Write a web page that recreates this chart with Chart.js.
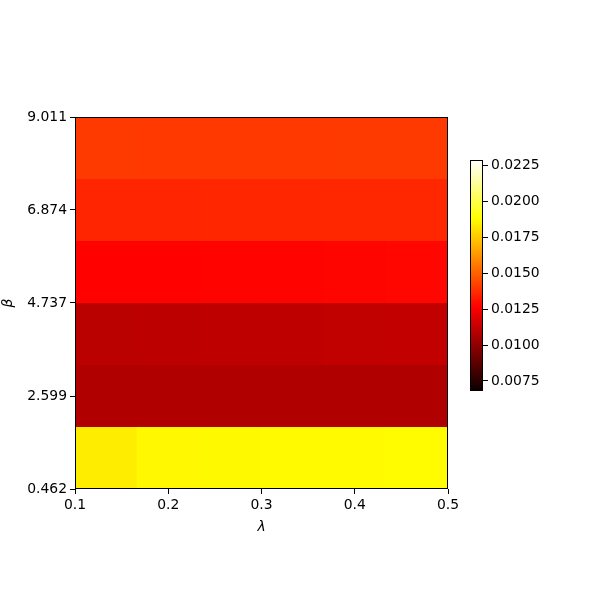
<!DOCTYPE html>
<html>
<head>
<meta charset="utf-8">
<script src="https://cdn.jsdelivr.net/npm/chart.js@4/dist/chart.umd.min.js"></script>
<style>
  html, body { margin: 0; padding: 0; background: #fff; }
  #wrap { position: relative; width: 600px; height: 600px; }
  #main { position: absolute; left: 0; top: 0; }
  #cbar { position: absolute; left: 440px; top: 140px; }
</style>
</head>
<body>
<div id="wrap">
  <canvas id="main" width="600" height="600"></canvas>
  <canvas id="cbar" width="140" height="270"></canvas>
</div>
<script>
// ---- data ----
const lambdaEdges = [0.1, 0.16667, 0.23333, 0.3, 0.36667, 0.43333, 0.5];
const betaEdges = [0.462, 1.8868, 3.3117, 4.7365, 6.1613, 7.5862, 9.011];
const xTicks = [0.1, 0.2, 0.3, 0.4, 0.5];
const yTicks = [0.462, 2.599, 4.737, 6.874, 9.011];
const cbTicks = [0.0075, 0.0100, 0.0125, 0.0150, 0.0175, 0.0200, 0.0225];
const vMin = 0.0068;
const vMax = 0.0229;
// rows from bottom (beta low) to top (beta high), columns lambda left -> right
const row0 = [0.01838, 0.01864, 0.01866, 0.01868, 0.01870, 0.01873];
const row1 = [0.01078, 0.01078, 0.01079, 0.01080, 0.01080, 0.01081];
const row2 = [0.01105, 0.01107, 0.01112, 0.01115, 0.01119, 0.01124];
const row3 = [0.01272, 0.01272, 0.01274, 0.01276, 0.01280, 0.01282];
const row4 = [0.01356, 0.01357, 0.01358, 0.01359, 0.01361, 0.01362];
const row5 = [0.01408, 0.01404, 0.01405, 0.01406, 0.01407, 0.01408];
const rows = [row0, row1, row2, row3, row4, row5];

// ---- colormap (matplotlib 'hot') ----
function hot(t) {
  t = Math.max(0, Math.min(1, t));
  const r = t < 0.365079 ? 0.0416 + (1 - 0.0416) * t / 0.365079 : 1;
  const g = t < 0.365079 ? 0 : (t < 0.746032 ? (t - 0.365079) / (0.746032 - 0.365079) : 1);
  const b = t < 0.746032 ? 0 : (t - 0.746032) / (1 - 0.746032);
  return 'rgb(' + Math.round(r * 255) + ',' + Math.round(g * 255) + ',' + Math.round(b * 255) + ')';
}
function colorFor(v) { return hot((v - vMin) / (vMax - vMin)); }

const FONT = { family: 'DejaVu Sans', size: 13.9 };
Chart.defaults.font.family = 'DejaVu Sans';
Chart.defaults.color = '#000';
Chart.defaults.animation = false;

const datasets = rows.map((row, ri) => ({
  data: row.map((v, ci) => ({
    x: (lambdaEdges[ci] + lambdaEdges[ci + 1]) / 2,
    y: [betaEdges[ri], betaEdges[ri + 1]]
  })),
  backgroundColor: row.map(colorFor),
  borderWidth: 0,
  barPercentage: 1.02,
  categoryPercentage: 1,
  grouped: false
}));

const boxPlugin = {
  id: 'box',
  afterDatasetsDraw(chart) {
    const a = chart.chartArea, ctx = chart.ctx;
    ctx.save();
    ctx.strokeStyle = '#000';
    ctx.lineWidth = 1;
    ctx.strokeRect(Math.round(a.left) + 0.5, Math.round(a.top) + 0.5,
      Math.round(a.right - a.left) - 1, Math.round(a.bottom - a.top) - 1);
    ctx.restore();
  }
};

new Chart(document.getElementById('main'), {
  type: 'bar',
  data: { datasets },
  options: {
    responsive: false,
    animation: false,
    layout: { padding: { top: 117, right: 152, bottom: 64, left: 0 } },
    plugins: { legend: { display: false }, tooltip: { enabled: false } },
    scales: {
      x: {
        type: 'linear', min: 0.1, max: 0.5, offset: false,
        grid: { drawOnChartArea: false, offset: false, tickLength: 5, tickColor: '#000', tickWidth: 1 },
        border: { display: false },
        afterBuildTicks: s => { s.ticks = xTicks.map(v => ({ value: v })); },
        afterFit: s => { s.height = 47; },
        ticks: { font: FONT, color: '#000', padding: 3, maxRotation: 0,
          callback: v => v.toFixed(1) },
        title: { display: true, text: 'λ', font: { family: 'DejaVu Sans', size: 13.9, style: 'italic' }, color: '#000', padding: 0 }
      },
      y: {
        type: 'linear', min: 0.462, max: 9.011,
        grid: { drawOnChartArea: false, tickLength: 5, tickColor: '#000', tickWidth: 1 },
        border: { display: false },
        afterBuildTicks: s => { s.ticks = yTicks.map(v => ({ value: v })); },
        afterFit: s => { s.width = 75; },
        ticks: { font: FONT, color: '#000', padding: 3, callback: v => v.toFixed(3) },
        title: { display: true, text: 'β', font: { family: 'DejaVu Sans', size: 13.9, style: 'italic' }, color: '#000', padding: 0 }
      }
    }
  },
  plugins: [boxPlugin]
});

// ---- colorbar ----
new Chart(document.getElementById('cbar'), {
  type: 'bar',
  data: {
    labels: ['c'],
    datasets: [{
      data: [[vMin, vMax]],
      borderWidth: 0,
      barPercentage: 1,
      categoryPercentage: 1,
      backgroundColor: (ctx) => {
        const chart = ctx.chart;
        const a = chart.chartArea;
        if (!a) return '#000';
        const ys = chart.scales.y;
        const y0 = ys.getPixelForValue(vMin), y1 = ys.getPixelForValue(vMax);
        const g = chart.ctx.createLinearGradient(0, y0, 0, y1);
        for (let i = 0; i <= 40; i++) g.addColorStop(i / 40, hot(i / 40));
        return g;
      }
    }]
  },
  options: {
    responsive: false,
    animation: false,
    layout: { padding: { top: 20, right: 0, bottom: 19, left: 30 } },
    plugins: { legend: { display: false }, tooltip: { enabled: false } },
    scales: {
      x: { display: false },
      y: {
        position: 'right', min: vMin, max: vMax,
        grid: { drawOnChartArea: false, tickLength: 5, tickColor: '#000', tickWidth: 1 },
        border: { display: false },
        afterBuildTicks: s => { s.ticks = cbTicks.map(v => ({ value: v })); },
        afterFit: s => { s.width = 97; },
        ticks: { font: FONT, color: '#000', padding: 3, callback: v => v.toFixed(4) }
      }
    }
  },
  plugins: [boxPlugin]
});
</script>
</body>
</html>
